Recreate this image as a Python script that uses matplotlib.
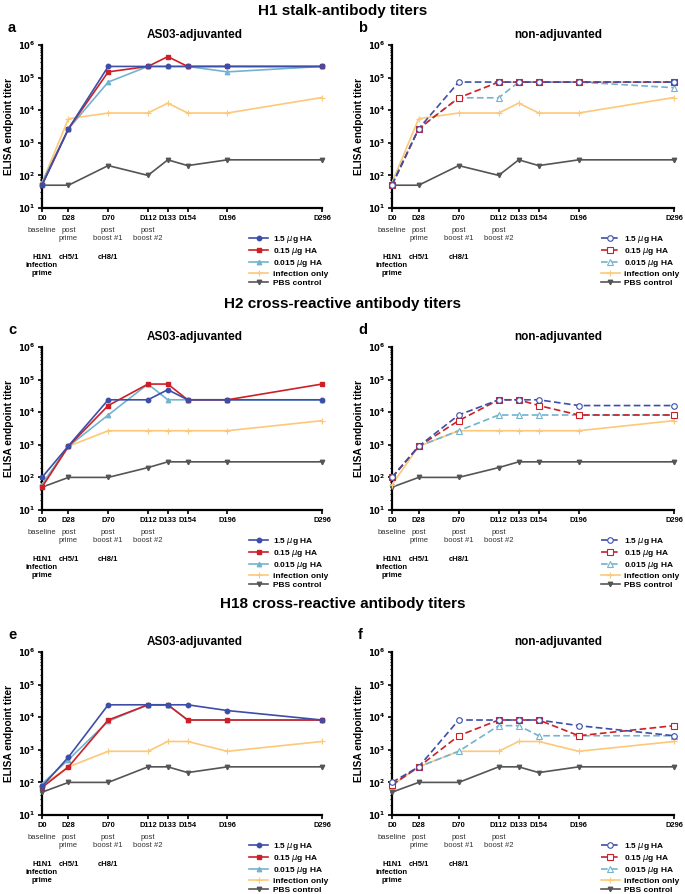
"""Antibody titer time courses, AS03-adjuvanted vs non-adjuvanted."""
import matplotlib
matplotlib.use("Agg")
import matplotlib.pyplot as plt

plt.rcParams["font.family"] = ["Liberation Sans", "DejaVu Sans"]
plt.rcParams["mathtext.fontset"] = "dejavusans"

days = [0, 28, 70, 112, 133, 154, 196, 296]
day_labels = ["D0", "D28", "D70", "D112", "D133", "D154", "D196", "D296"]
sub_labels = {0: "baseline", 28: "post\nprime", 70: "post\nboost #1", 112: "post\nboost #2"}
vaccine_labels = {0: "H1N1\ninfection\nprime", 28: "cH5/1", 70: "cH8/1"}

group_names = [r"1.5 $\mu$g HA", r"0.15 $\mu$g HA", r"0.015 $\mu$g HA",
               "infection only", "PBS control"]

# H1 stalk
h1_adj_15 = [50, 2700, 2.2e5, 2.2e5, 2.2e5, 2.2e5, 2.2e5, 2.2e5]
h1_adj_015 = [50, 2700, 1.5e5, 2.2e5, 4.4e5, 2.2e5, 2.2e5, 2.2e5]
h1_adj_0015 = [60, 2700, 7.3e4, 2.2e5, 2.2e5, 2.2e5, 1.5e5, 2.2e5]
h1_non_15 = [50, 2700, 7.3e4, 7.3e4, 7.3e4, 7.3e4, 7.3e4, 7.3e4]
h1_non_015 = [50, 2700, 2.4e4, 7.3e4, 7.3e4, 7.3e4, 7.3e4, 7.3e4]
h1_non_0015 = [55, 2700, 2.4e4, 2.4e4, 7.3e4, 7.3e4, 7.3e4, 4.9e4]
h1_inf = [60, 5500, 8200, 8200, 1.65e4, 8200, 8200, 2.45e4]
h1_pbs = [50, 50, 200, 100, 300, 200, 300, 300]

# H2 cross-reactive
h2_adj_15 = [100, 930, 2.4e4, 2.4e4, 4.9e4, 2.4e4, 2.4e4, 2.4e4]
h2_adj_015 = [50, 900, 1.6e4, 7.3e4, 7.3e4, 2.4e4, 2.4e4, 7.3e4]
h2_adj_0015 = [60, 900, 8200, 7.3e4, 2.4e4, 2.4e4, 2.4e4, 2.4e4]
h2_non_15 = [100, 900, 8200, 2.4e4, 2.4e4, 2.4e4, 1.6e4, 1.6e4]
h2_non_015 = [100, 900, 5500, 2.4e4, 2.4e4, 1.6e4, 8200, 8200]
h2_non_0015 = [100, 900, 2700, 8200, 8200, 8200, 8200, 8200]
h2_inf = [60, 900, 2700, 2700, 2700, 2700, 2700, 5500]
h2_pbs = [50, 100, 100, 200, 300, 300, 300, 300]

# H18 cross-reactive
h18_adj_15 = [75, 600, 2.4e4, 2.4e4, 2.4e4, 2.4e4, 1.6e4, 8200]
h18_adj_015 = [70, 300, 8200, 2.4e4, 2.4e4, 8200, 8200, 8200]
h18_adj_0015 = [90, 500, 7500, 2.4e4, 2.4e4, 8200, 8200, 8200]
h18_non_15 = [100, 300, 8200, 8200, 8200, 8200, 5500, 2700]
h18_non_015 = [85, 300, 2700, 8200, 8200, 8200, 2700, 5500]
h18_non_0015 = [80, 300, 900, 5500, 5500, 2700, 2700, 2700]
h18_inf = [80, 300, 900, 900, 1800, 1800, 900, 1800]
h18_pbs = [50, 100, 100, 300, 300, 200, 300, 300]

colors = ["#3d4ea8", "#cc2027", "#72b3cf", "#fdc878", "#555555"]
markers = ["o", "s", "^", "+", "v"]

W, H = 685, 894
fig = plt.figure(figsize=(W / 100, H / 100), dpi=100)


def draw_panel(left, top, width, series, adjuvanted, letter, title, title_x):
    ax = fig.add_axes([left / W, 1 - (top + 163) / H, width / W, 163 / H])
    handles = {}
    for i in [4, 3, 2, 1, 0]:
        dashed = (not adjuvanted) and i < 3
        kw = dict(color=colors[i], lw=1.2, marker=markers[i], ms=3.2,
                  clip_on=False, zorder=3 + (4 - i))
        if i == 3:
            kw["ms"] = 4
            kw["mew"] = 0.8
        if dashed:
            kw.update(ls=(0, (4, 2)), mfc="white", mew=0.8, ms=4)
        (ln,) = ax.plot(days, series[i], **kw)
        handles[i] = ln
    ax.set_yscale("log")
    ax.set_ylim(10, 1e6)
    ax.set_xlim(0, 296)
    ax.set_yticks([10, 1e2, 1e3, 1e4, 1e5, 1e6])
    ax.set_yticklabels([r"$\mathbf{10^{%d}}$" % k for k in range(1, 7)], fontsize=6)
    ax.set_xticks(days)
    ax.set_xticklabels(day_labels, fontsize=5.4, fontweight="bold")
    for side in ("top", "right"):
        ax.spines[side].set_visible(False)
    for side in ("left", "bottom"):
        ax.spines[side].set_linewidth(1.6)
    ax.tick_params(axis="both", which="major", length=3, width=1.2, pad=2)
    ax.tick_params(axis="y", which="minor", length=1.8, width=0.8)
    ax.set_ylabel("ELISA endpoint titer", fontsize=7.3, fontweight="bold")
    ax.yaxis.set_label_coords(-0.1, 0.5)
    ax.text(title_x, 1.06, title, transform=ax.transAxes, ha="center",
            va="center", fontsize=8.5, fontweight="bold")
    fig.text((left - 34) / W, 1 - (top - 17) / H, letter, fontsize=10.5,
             fontweight="bold", ha="left", va="center")
    for d, txt in sub_labels.items():
        ax.annotate(txt, xy=(d, 0), xycoords=("data", "axes fraction"),
                    xytext=(0, -13.5), textcoords="offset points", ha="center",
                    va="top", fontsize=5.5, color="#333333", linespacing=1.25)
    for d, txt in vaccine_labels.items():
        ax.annotate(txt, xy=(d, 0), xycoords=("data", "axes fraction"),
                    xytext=(0, -33), textcoords="offset points", ha="center",
                    va="top", fontsize=5.5, fontweight="bold", linespacing=1.25)
    ax.legend([handles[i] for i in range(5)], group_names,
              loc="upper left", bbox_to_anchor=(0.74, -0.16), frameon=False,
              prop={"weight": "bold", "size": 6},
              handlelength=2.3, handletextpad=0.5, labelspacing=0.12,
              borderpad=0, borderaxespad=0)
    return ax


rows = [
    ("H1 stalk-antibody titers", 11, 45,
     [h1_adj_15, h1_adj_015, h1_adj_0015, h1_inf, h1_pbs],
     [h1_non_15, h1_non_015, h1_non_0015, h1_inf, h1_pbs], "a", "b"),
    ("H2 cross-reactive antibody titers", 304, 347,
     [h2_adj_15, h2_adj_015, h2_adj_0015, h2_inf, h2_pbs],
     [h2_non_15, h2_non_015, h2_non_0015, h2_inf, h2_pbs], "c", "d"),
    ("H18 cross-reactive antibody titers", 604, 652,
     [h18_adj_15, h18_adj_015, h18_adj_0015, h18_inf, h18_pbs],
     [h18_non_15, h18_non_015, h18_non_0015, h18_inf, h18_pbs], "e", "f"),
]

for heading, head_y, top, adj, non, la, lb in rows:
    fig.text(0.5, 1 - head_y / H, heading, ha="center", va="center",
             fontsize=11, fontweight="bold")
    draw_panel(42, top, 280, adj, True, la, "AS03-adjuvanted", 0.546)
    draw_panel(392, top, 282, non, False, lb, "non-adjuvanted", 0.588)

fig.savefig("out.png", dpi=100)
